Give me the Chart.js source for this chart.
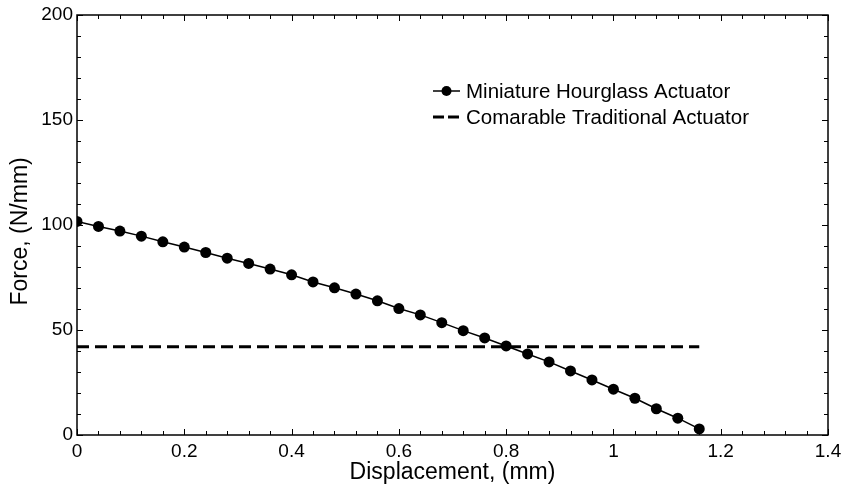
<!DOCTYPE html>
<html>
<head>
<meta charset="utf-8">
<script src="https://cdn.jsdelivr.net/npm/chart.js@4.4.1/dist/chart.umd.min.js"></script>
<style>
  html, body { margin: 0; padding: 0; background: #fff; }
  #wrap { width: 844px; height: 489px; position: relative; }
</style>
</head>
<body>
<div id="wrap"><canvas id="chart"></canvas></div>
<script>
// Miniature hourglass actuator curve
const dispX = [0, 0.04, 0.08, 0.12, 0.16, 0.2, 0.24, 0.28, 0.32, 0.36,
  0.4, 0.44, 0.48, 0.52, 0.56, 0.6, 0.64, 0.68, 0.72, 0.76,
  0.8, 0.84, 0.88, 0.92, 0.96, 1.0, 1.04, 1.08, 1.12, 1.16]
const forceY = [101.7, 99.3, 97.1, 94.7, 92.0, 89.5, 86.9, 84.2, 81.7, 79.0,
  76.3, 72.9, 70.1, 67.1, 63.9, 60.2, 57.2, 53.5, 49.7, 46.2,
  42.4, 38.6, 34.8, 30.5, 26.2, 21.8, 17.5, 12.5, 8.0, 2.9]

// Comparable traditional actuator (flat line)
const tradX = [0, 1.16]
const tradY = [42, 42]

const seriesLabels = ['Miniature Hourglass Actuator', 'Comarable Traditional Actuator']

// axis ticks
const xTicks = [0, 0.2, 0.4, 0.6, 0.8, 1, 1.2, 1.4]
const yTicks = [0, 50, 100, 150, 200]
const xMinorStep = 0.04
const yMinorStep = 10

const FONT = "'Liberation Sans', Arial, sans-serif"

// frame + inward tick marks on all four sides
const frameTicks = {
  id: 'frameTicks',
  afterDraw(chart) {
    const { ctx, chartArea: a, scales: { x, y } } = chart
    ctx.save()
    ctx.strokeStyle = '#000'
    ctx.lineWidth = 1
    const majorLen = 6, minorLen = 4
    // x ticks (bottom and top)
    for (let i = 0; i <= Math.round(1.4 / xMinorStep); i++) {
      const px = Math.round(x.getPixelForValue(i * xMinorStep)) + 0.5
      const len = i % 5 === 0 ? majorLen : minorLen
      ctx.beginPath()
      ctx.moveTo(px, a.bottom); ctx.lineTo(px, a.bottom - len)
      ctx.moveTo(px, a.top); ctx.lineTo(px, a.top + len)
      ctx.stroke()
    }
    // y ticks (left and right)
    for (let i = 0; i <= Math.round(200 / yMinorStep); i++) {
      const py = Math.round(y.getPixelForValue(i * yMinorStep)) + 0.5
      const len = i % 5 === 0 ? majorLen : minorLen
      ctx.beginPath()
      ctx.moveTo(a.left, py); ctx.lineTo(a.left + len, py)
      ctx.moveTo(a.right, py); ctx.lineTo(a.right - len, py)
      ctx.stroke()
    }
    ctx.lineWidth = 1.5
    ctx.strokeRect(a.left, a.top, a.right - a.left, a.bottom - a.top)
    ctx.restore()
  }
}

// legend drawn inside the plot area
const insideLegend = {
  id: 'insideLegend',
  afterDraw(chart) {
    const { ctx } = chart
    const x0 = 433, x1 = 460, tx = 466
    const rows = [91, 117]
    ctx.save()
    ctx.font = "20.5px " + FONT
    ctx.fillStyle = '#000'
    ctx.textBaseline = 'middle'
    // row 1: line with marker
    ctx.strokeStyle = '#000'
    ctx.lineWidth = 1.5
    ctx.beginPath(); ctx.moveTo(x0, rows[0]); ctx.lineTo(x1, rows[0]); ctx.stroke()
    ctx.beginPath(); ctx.arc((x0 + x1) / 2, rows[0], 5, 0, Math.PI * 2); ctx.fill()
    ctx.fillText(chart.data.datasets[0].label, tx, rows[0] + 1)
    // row 2: dashed
    ctx.lineWidth = 3
    ctx.setLineDash([11, 4])
    ctx.beginPath(); ctx.moveTo(x0, rows[1]); ctx.lineTo(x1, rows[1]); ctx.stroke()
    ctx.setLineDash([])
    ctx.fillText(chart.data.datasets[1].label, tx, rows[1] + 1)
    ctx.restore()
  }
}

const ctx = document.getElementById('chart').getContext('2d')

new Chart(ctx, {
  type: 'line',
  data: {
    datasets: [
      {
        label: seriesLabels[0],
        data: dispX.map((v, i) => ({ x: v, y: forceY[i] })),
        borderColor: '#000',
        backgroundColor: '#000',
        borderWidth: 1.5,
        pointRadius: 5.5,
        pointBackgroundColor: '#000',
        pointBorderWidth: 0,
        tension: 0
      },
      {
        label: seriesLabels[1],
        data: tradX.map((v, i) => ({ x: v, y: tradY[i] })),
        borderColor: '#000',
        borderWidth: 3,
        borderDash: [12, 6],
        pointRadius: 0,
        tension: 0
      }
    ]
  },
  options: {
    responsive: true,
    maintainAspectRatio: false,
    animation: false,
    devicePixelRatio: 1,
    events: [],
    layout: { padding: { top: 15, right: 16, left: 0, bottom: 0 } },
    plugins: {
      legend: { display: false },
      tooltip: { enabled: false }
    },
    scales: {
      x: {
        type: 'linear',
        min: 0,
        max: 1.4,
        afterBuildTicks: scale => { scale.ticks = xTicks.map(v => ({ value: v })) },
        afterFit: scale => { scale.height = 54 },
        grid: { display: false },
        border: { display: false },
        ticks: {
          color: '#000',
          padding: -3,
          maxRotation: 0,
          font: { family: FONT, size: 19 },
          callback: v => String(parseFloat(v.toFixed(1)))
        },
        title: {
          display: true,
          text: 'Displacement, (mm)',
          color: '#000',
          font: { family: FONT, size: 23 },
          padding: { top: 0, bottom: 3 }
        }
      },
      y: {
        type: 'linear',
        min: 0,
        max: 200,
        afterBuildTicks: scale => { scale.ticks = yTicks.map(v => ({ value: v })) },
        afterFit: scale => { scale.width = 77 },
        grid: { display: false },
        border: { display: false },
        ticks: {
          color: '#000',
          padding: -4,
          font: { family: FONT, size: 19 }
        },
        title: {
          display: true,
          text: 'Force, (N/mm)  ',
          color: '#000',
          font: { family: FONT, size: 23 },
          padding: { top: 7, bottom: 0 }
        }
      }
    }
  },
  plugins: [frameTicks, insideLegend]
})
</script>
</body>
</html>
